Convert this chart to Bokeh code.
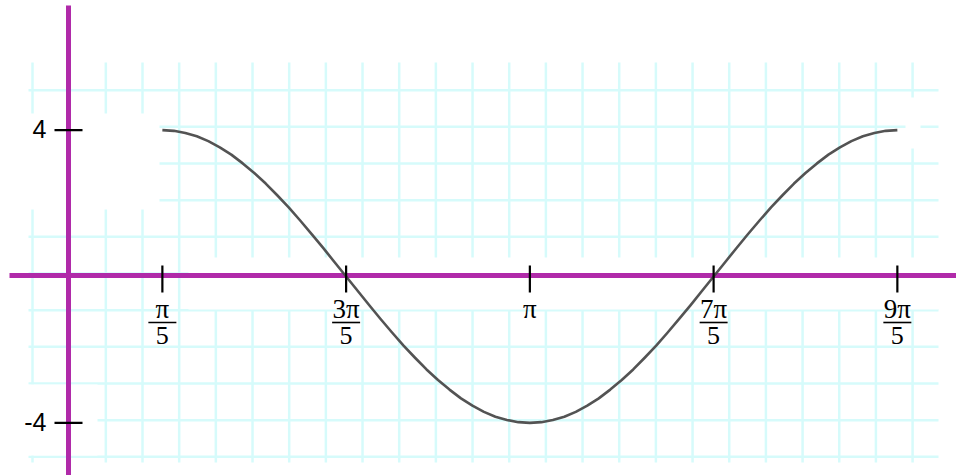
import numpy as np
from bokeh.plotting import figure
from bokeh.models import Range1d
from bokeh.core.properties import value
from bokeh.embed import file_html
from bokeh.resources import INLINE

# ---------------- data ----------------
# curve x positions, in multiples of pi (every pi/40)
curve_x_pi = [0.200, 0.225, 0.250, 0.275, 0.300, 0.325, 0.350, 0.375, 0.400,
              0.425, 0.450, 0.475, 0.500, 0.525, 0.550, 0.575, 0.600,
              0.625, 0.650, 0.675, 0.700, 0.725, 0.750, 0.775, 0.800,
              0.825, 0.850, 0.875, 0.900, 0.925, 0.950, 0.975, 1.000,
              1.025, 1.050, 1.075, 1.100, 1.125, 1.150, 1.175, 1.200,
              1.225, 1.250, 1.275, 1.300, 1.325, 1.350, 1.375, 1.400,
              1.425, 1.450, 1.475, 1.500, 1.525, 1.550, 1.575, 1.600,
              1.625, 1.650, 1.675, 1.700, 1.725, 1.750, 1.775, 1.800]
curve_y = [4.00, 3.98, 3.92, 3.83, 3.70, 3.53, 3.33, 3.09, 2.83,
           2.54, 2.22, 1.89, 1.53, 1.16, 0.78, 0.39, 0.00,
           -0.39, -0.78, -1.16, -1.53, -1.89, -2.22, -2.54, -2.83,
           -3.09, -3.33, -3.53, -3.70, -3.83, -3.92, -3.98, -4.00,
           -3.98, -3.92, -3.83, -3.70, -3.53, -3.33, -3.09, -2.83,
           -2.54, -2.22, -1.89, -1.53, -1.16, -0.78, -0.39, 0.00,
           0.39, 0.78, 1.16, 1.53, 1.89, 2.22, 2.54, 2.83,
           3.09, 3.33, 3.53, 3.70, 3.83, 3.92, 3.98, 4.00]

x_ticks_pi = [0.2, 0.6, 1.0, 1.4, 1.8]
x_tick_num = ["π", "3π", "π", "7π", "9π"]
x_tick_den = ["5", "5", "", "5", "5"]

y_ticks = [4, -4]
y_tick_labels = ["4", "-4"]

# ---------------- layout helpers ----------------
W, H = 956, 475
OFF = 0                 # page offset of the figure
X0, SX = 70.0, 146.22   # page px of x=0, px per radian
Y0, SY = 276.0, 36.6    # page px of y=0, px per unit


def px_x(X):
    return (X - X0) / SX


def px_y(Y):
    return (Y0 - Y) / SY


p = figure(width=W, height=H, output_backend="svg", toolbar_location=None,
           x_range=Range1d(px_x(OFF), px_x(OFF + W)),
           y_range=Range1d(px_y(OFF + H), px_y(OFF)),
           x_axis_location=None, y_axis_location=None,
           min_border=0, outline_line_color=None,
           background_fill_color="white", border_fill_color="white")
p.grid.visible = False

# ---------------- graph-paper grid ----------------
grid_col = "#d6fbfb"
gx = [px_x(32 + 36.67 * k) for k in range(25)]
p.segment(x0=gx, y0=[px_y(62)] * len(gx), x1=gx, y1=[px_y(462)] * len(gx),
          line_color=grid_col, line_width=2.5)
gy = [px_y(273 - 36.67 * j) for j in range(-5, 6)]
p.segment(x0=[px_x(28)] * len(gy), y0=gy, x1=[px_x(938)] * len(gy), y1=gy,
          line_color=grid_col, line_width=2.5)

# erased patches of the paper
patches = [(26, 159, 113, 209), (188, 938, 257, 309), (26, 97, 384, 455), (905, 920, 97, 148)]
p.quad(left=[px_x(a[0]) for a in patches], right=[px_x(a[1]) for a in patches],
       top=[px_y(a[2]) for a in patches], bottom=[px_y(a[3]) for a in patches],
       fill_color="white", line_color=None)

# ---------------- axes ----------------
axis_col = "#b02aa9"
axis_x = px_x(68)
p.segment(x0=[px_x(9)], y0=[px_y(275)], x1=[px_x(956)], y1=[px_y(275)],
          line_color=axis_col, line_width=5)
p.segment(x0=[axis_x], y0=[px_y(5)], x1=[axis_x], y1=[px_y(475)],
          line_color=axis_col, line_width=5)

# ---------------- curve ----------------
cx = [v * np.pi for v in curve_x_pi]
p.line(cx, curve_y, line_color="#4a4a4a", line_width=2.6, line_alpha=0.95,
       line_join="round")

# ---------------- ticks ----------------
tx = [v * np.pi for v in x_ticks_pi]
p.segment(x0=tx, y0=[px_y(265)] * len(tx), x1=tx, y1=[px_y(292)] * len(tx),
          line_color="black", line_width=2.2)
p.scatter(x=[axis_x] * len(y_ticks), y=y_ticks, marker="dash", size=28,
          line_color="black", line_width=2.2)

# y tick labels
p.text(x=[axis_x] * len(y_ticks), y=y_ticks, text=y_tick_labels,
       x_offset=-22, y_offset=-1, text_align="right", text_baseline="middle",
       text_font=value("Liberation Sans"), text_font_size="25px", text_color="black")

# x tick labels as fractions
p.text(x=tx, y=[px_y(275)] * len(tx), text=x_tick_num, y_offset=33,
       text_align="center", text_baseline="middle",
       text_font=value("Liberation Serif"), text_font_size="27px", text_color="black")
frac_x = [t for t, d in zip(tx, x_tick_den) if d]
frac_d = [d for d in x_tick_den if d]
p.text(x=frac_x, y=[px_y(275)] * len(frac_x), text=frac_d, y_offset=60,
       text_align="center", text_baseline="middle",
       text_font=value("Liberation Serif"), text_font_size="26px", text_color="black")
p.scatter(x=frac_x, y=[px_y(322)] * len(frac_x), marker="dash", size=28,
          line_color="black", line_width=1.6)

open("out.html", "w").write(file_html(p, INLINE))
